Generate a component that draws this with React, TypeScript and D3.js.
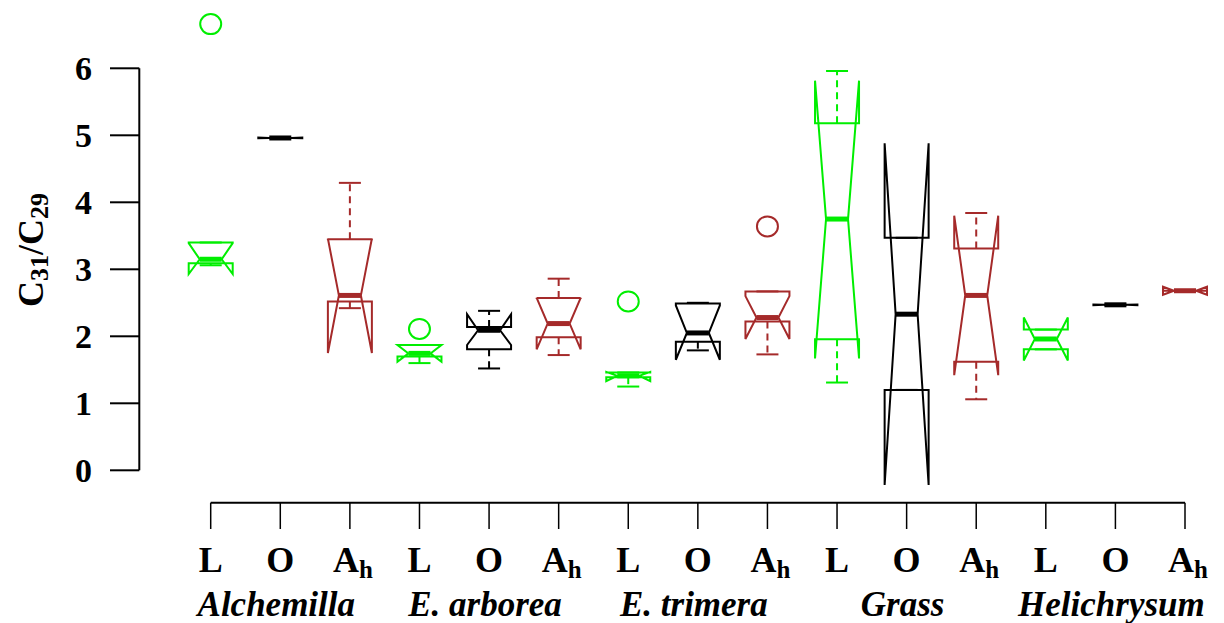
import React, { useRef, useEffect } from "react";
import * as d3 from "d3";

const species = ["Alchemilla", "E. arborea", "E. trimera", "Grass", "Helichrysum"];
const horizons = ["L", "O", "A"];
const horizonColors = ["#00ee00", "#000000", "#a52a2a"];
const yTicks = [0, 1, 2, 3, 4, 5, 6];

// one entry per box, species x horizon (L, O, Ah)
const whiskerLow = [3.06, 4.96, 2.42, 1.6, 1.52, 1.72, 1.25, 1.79, 1.73, 1.31, 1.2, 1.06, 1.805, 2.47, 2.68];
const hingeLow = [3.09, 4.96, 2.52, 1.7, 1.805, 1.985, 1.39, 1.92, 2.22, 1.955, 1.2, 1.62, 1.805, 2.47, 2.68];
const medians = [3.15, 4.96, 2.61, 1.745, 2.09, 2.19, 1.41, 2.05, 2.28, 3.75, 2.33, 2.61, 1.96, 2.47, 2.68];
const hingeHigh = [3.4, 4.96, 3.45, 1.87, 2.14, 2.57, 1.46, 2.49, 2.67, 5.18, 3.47, 3.31, 2.1, 2.47, 2.68];
const whiskerHigh = [3.4, 4.96, 4.29, 1.87, 2.38, 2.86, 1.46, 2.5, 2.67, 5.96, 3.47, 3.84, 2.1, 2.47, 2.68];
const notchLow = [2.93, 4.955, 1.75, 1.62, 1.87, 1.805, 1.33, 1.65, 1.96, 1.67, -0.22, 1.42, 1.64, 2.465, 2.62];
const notchHigh = [3.39, 4.965, 3.46, 1.87, 2.33, 2.575, 1.47, 2.46, 2.6, 5.815, 4.88, 3.8, 2.28, 2.475, 2.74];
const outliers = [[6.66], [], [], [2.11], [], [], [2.52], [], [3.64], [], [], [], [], [], []];

export default function App() {
  const ref = useRef<SVGSVGElement>(null);

  useEffect(() => {
    const svg = d3.select(ref.current);
    svg.selectAll("*").remove();
    const font = "'Liberation Serif', 'Times New Roman', serif";

    const y = d3.scaleLinear().domain([0, 6]).range([470.3, 68.3]);
    const x = d3
      .scalePoint<number>()
      .domain(d3.range(whiskerLow.length))
      .range([210.7, 1185]);
    const hw = 22; // half box width

    // y axis
    const yAxis = svg.append("g").attr("stroke", "#000").attr("stroke-width", 2);
    yAxis
      .append("line")
      .attr("x1", 139.3)
      .attr("x2", 139.3)
      .attr("y1", y(0))
      .attr("y2", y(6));
    yAxis
      .selectAll("line.tick")
      .data(yTicks)
      .join("line")
      .attr("class", "tick")
      .attr("x1", 110)
      .attr("x2", 139.3)
      .attr("y1", (d) => y(d))
      .attr("y2", (d) => y(d));
    svg
      .append("g")
      .selectAll("text")
      .data(yTicks)
      .join("text")
      .attr("x", 92)
      .attr("y", (d) => y(d))
      .attr("dy", "0.35em")
      .attr("text-anchor", "end")
      .style("font", `bold 34px ${font}`)
      .text((d) => d);

    // y label C31/C29
    const yl = svg
      .append("text")
      .attr("transform", "translate(43,250) rotate(-90)")
      .attr("text-anchor", "middle")
      .style("font", `bold 36px ${font}`);
    yl.append("tspan").text("C");
    yl.append("tspan").attr("dy", 5).style("font-size", "26px").text("31");
    yl.append("tspan").attr("dy", -5).text("/C");
    yl.append("tspan").attr("dy", 5).style("font-size", "26px").text("29");

    // x axis
    const xAxis = svg.append("g").attr("stroke", "#000").attr("stroke-width", 2);
    xAxis
      .append("line")
      .attr("x1", x(0)!)
      .attr("x2", x(whiskerLow.length - 1)!)
      .attr("y1", 502.7)
      .attr("y2", 502.7);
    xAxis
      .selectAll("line.tick")
      .data(d3.range(whiskerLow.length))
      .join("line")
      .attr("class", "tick")
      .attr("stroke-width", 1.5)
      .attr("x1", (d) => x(d)!)
      .attr("x2", (d) => x(d)!)
      .attr("y1", 502.7)
      .attr("y2", 529);

    const xl = svg
      .append("g")
      .selectAll("text")
      .data(d3.range(whiskerLow.length))
      .join("text")
      .attr("x", (d) => x(d)! + (d % 3 === 2 ? 3 : 0))
      .attr("y", 572)
      .attr("text-anchor", "middle")
      .style("font", `bold 36px ${font}`);
    xl.append("tspan").text((d) => horizons[d % 3]);
    xl.filter((d) => d % 3 === 2)
      .append("tspan")
      .attr("dy", 6)
      .style("font-size", "25px")
      .text("h");

    svg
      .append("g")
      .selectAll("text")
      .data(species)
      .join("text")
      .attr("x", (d, i) => x(i * 3 + 1)! - 4)
      .attr("y", 616)
      .attr("text-anchor", "middle")
      .style("font", `italic bold 35px ${font}`)
      .text((d) => d);

    // boxes
    const line = d3.line<[number, number]>();
    const boxes = svg
      .append("g")
      .selectAll("g")
      .data(d3.range(whiskerLow.length))
      .join("g")
      .attr("stroke", (d) => horizonColors[d % 3])
      .attr("fill", "none");

    boxes.each(function (i) {
      const g = d3.select(this);
      const cx = x(i)!;
      // whiskers
      [
        [hingeLow[i], whiskerLow[i]],
        [hingeHigh[i], whiskerHigh[i]],
      ].forEach(([a, b]) => {
        if (a !== b)
          g.append("line")
            .attr("x1", cx)
            .attr("x2", cx)
            .attr("y1", y(a))
            .attr("y2", y(b))
            .attr("stroke-width", 2)
            .attr("stroke-dasharray", "7,5");
        g.append("line")
          .attr("x1", cx - hw / 2)
          .attr("x2", cx + hw / 2)
          .attr("y1", y(b))
          .attr("y2", y(b))
          .attr("stroke-width", 2);
      });
      // notched box
      const pts: [number, number][] = [
        [-1, hingeLow[i]],
        [1, hingeLow[i]],
        [1, notchLow[i]],
        [0.5, medians[i]],
        [1, notchHigh[i]],
        [1, hingeHigh[i]],
        [-1, hingeHigh[i]],
        [-1, notchHigh[i]],
        [-0.5, medians[i]],
        [-1, notchLow[i]],
      ].map(([f, v]) => [cx + f * hw, y(v)] as [number, number]);
      g.append("path")
        .attr("d", line(pts) + "Z")
        .attr("stroke-width", 2)
        .attr("stroke-linejoin", "miter");
      // median
      g.append("line")
        .attr("x1", cx - hw / 2)
        .attr("x2", cx + hw / 2)
        .attr("y1", y(medians[i]))
        .attr("y2", y(medians[i]))
        .attr("stroke-width", 5);
      // outliers
      g.selectAll("ellipse")
        .data(outliers[i])
        .join("ellipse")
        .attr("cx", cx)
        .attr("cy", (d) => y(d))
        .attr("rx", 10.5)
        .attr("ry", 10)
        .attr("stroke-width", 2);
    });
  }, []);

  return (
    <svg
      ref={ref}
      width={1224}
      height={623}
      style={{ position: "absolute", left: 0, top: 0, background: "#fff" }}
    />
  );
}
